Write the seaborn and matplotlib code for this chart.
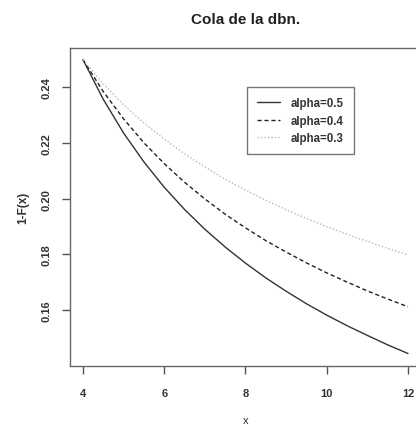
import matplotlib
matplotlib.use("Agg")
import matplotlib.pyplot as plt
import seaborn as sns
import pandas as pd

x_vals = [4.0, 4.5, 5.0, 5.5, 6.0, 6.5, 7.0, 7.5, 8.0, 8.5, 9.0, 9.5, 10.0, 10.5, 11.0, 11.5, 12.0]
alpha05 = [0.2500, 0.2357, 0.2236, 0.2132, 0.2041, 0.1961, 0.1890, 0.1826, 0.1768, 0.1715, 0.1667,
           0.1622, 0.1581, 0.1543, 0.1508, 0.1474, 0.1443]
alpha04 = [0.2500, 0.2385, 0.2287, 0.2201, 0.2126, 0.2059, 0.1999, 0.1944, 0.1895, 0.1849, 0.1808,
           0.1769, 0.1733, 0.1700, 0.1668, 0.1639, 0.1611]
alpha03 = [0.2500, 0.2413, 0.2338, 0.2272, 0.2214, 0.2161, 0.2114, 0.2070, 0.2031, 0.1994, 0.1960,
           0.1929, 0.1899, 0.1872, 0.1846, 0.1821, 0.1798]
labels = ["alpha=0.5", "alpha=0.4", "alpha=0.3"]
x_ticks = [4, 6, 8, 10, 12]
y_ticks = [0.16, 0.18, 0.20, 0.22, 0.24]

sns.set_style("white")
plt.rcParams['font.family'] = ['Liberation Sans', 'DejaVu Sans']

fig = plt.figure(figsize=(4.16, 4.31), dpi=100)
ax = fig.add_axes([70/416, 1-367/431, (421-70)/416, (367-49)/431])

series = [alpha05, alpha04, alpha03]
colors = ["#333333", "#222222", "#b8b8b8"]
styles = ["-", (0, (3, 2)), (0, (1, 1.5))]
for ys, lab, c, ls in zip(series, labels, colors, styles):
    df = pd.DataFrame({"x": x_vals, "y": ys})
    sns.lineplot(data=df, x="x", y="y", ax=ax, color=c, linestyle=ls, linewidth=1.0, label=lab)

ax.set_xlim(3.68, 12.32)
ax.set_ylim(0.1398, 0.2542)
ax.set_xticks(x_ticks)
ax.set_xticklabels([str(t) for t in x_ticks], fontsize=8, fontweight='bold', color="#333333")
ax.set_yticks(y_ticks)
ax.set_yticklabels([f"{t:.2f}" for t in y_ticks], fontsize=8, fontweight='bold', color="#333333",
                   rotation=90, va='center')
ax.tick_params(axis='both', which='major', bottom=True, left=True, direction='out',
               length=6, width=1, color="#555555", pad=7)
ax.tick_params(axis='x', pad=10)
for s in ax.spines.values():
    s.set_color("#666666")
    s.set_linewidth(1.0)

ax.set_xlabel("x", fontsize=8, color="#333333", labelpad=12)
ax.set_ylabel("1-F(x)", fontsize=8.5, fontweight='bold', color="#333333", labelpad=9)
ax.text(0.5, 1 + 29/318, "Cola de la dbn.", transform=ax.transAxes, ha='center', va='center',
        fontsize=11, fontweight='bold', color="#222222")

leg = ax.legend(loc='upper left', bbox_to_anchor=((247-70)/351, 1-(88-49)/318),
                borderaxespad=0, frameon=True, fancybox=False, fontsize=8.3, handlelength=2.0,
                borderpad=0.9, labelspacing=0.45, handletextpad=0.9)
leg.get_frame().set_edgecolor("#555555")
leg.get_frame().set_linewidth(1.0)
for t in leg.get_texts():
    t.set_fontweight('bold')
    t.set_color("#333333")

fig.savefig("out.png", dpi=100)
